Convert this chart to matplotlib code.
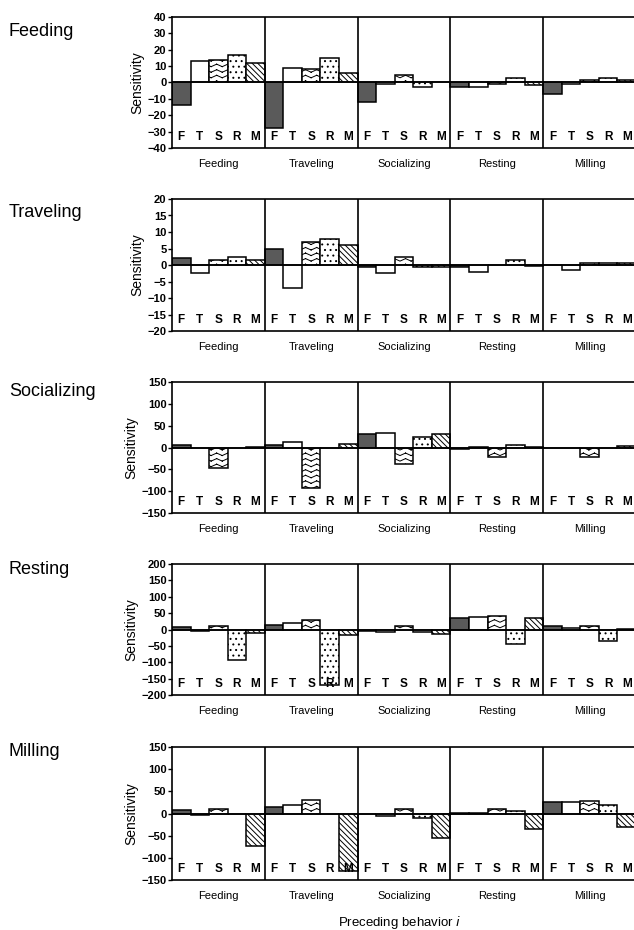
import numpy as np
import matplotlib
matplotlib.use('Agg')
import matplotlib.pyplot as plt
from matplotlib import hatch as mhatch
from matplotlib.path import Path
from matplotlib.transforms import blended_transform_factory


# zigzag fill for the S bars, matplotlib has no wavy hatch
# drawn as separate segments so agg does not fill the triangles
class ZigZagHatch(mhatch.HatchPatternBase):
    def __init__(self, hatch, density):
        self.num_rows = hatch.count('z') * density
        self.teeth = max(self.num_rows // 2, 1)
        self.num_vertices = self.num_rows * 2 * (2 * self.teeth)

    def set_vertices_and_codes(self, vertices, codes):
        n = 2 * self.teeth + 1
        xs = np.linspace(0, 1, n)
        amp = 0.45 / self.num_rows
        ys = np.linspace(0, 1, self.num_rows, endpoint=False)
        c = 0
        for y0 in ys:
            yy = y0 + amp * (np.arange(n) % 2)
            for s in range(n - 1):
                vertices[c] = (xs[s], yy[s])
                vertices[c + 1] = (xs[s + 1], yy[s + 1])
                codes[c] = Path.MOVETO
                codes[c + 1] = Path.LINETO
                c += 2


mhatch._hatch_types.append(ZigZagHatch)

plt.rcParams['font.family'] = ['Liberation Sans', 'DejaVu Sans']
plt.rcParams['hatch.linewidth'] = 0.7

groups = ['Feeding', 'Traveling', 'Socializing', 'Resting', 'Milling']
letters = ['F', 'T', 'S', 'R', 'M']

# rows = response behaviour, inner lists = preceding behaviour, values F T S R M
feeding_vals = [[-14, 13, 14, 17, 12],
                [-28, 9, 8, 15, 6],
                [-12, -1, 4.5, -2.5, 0],
                [-2.5, -3, -1, 3, -1.5],
                [-7, -1, 1.5, 3, 1.5]]
traveling_vals = [[2, -2.5, 1.5, 2.5, 1.5],
                  [5, -7, 7, 8, 6],
                  [-0.6, -2.5, 2.5, -0.7, -0.5],
                  [-0.6, -2.2, 0, 1.5, -0.3],
                  [0, -1.5, 0.6, 0.6, 0.6]]
socializing_vals = [[6, 0, -48, 0, 2],
                    [5, 12, -92, 0, 8],
                    [30, 33, -37, 23, 30],
                    [-3, 2, -22, 6, 2],
                    [0, 0, -22, 0, 3]]
resting_vals = [[8, -4, 10, -92, -12],
                [14, 20, 30, -170, -18],
                [-5, -8, 10, -9, -13],
                [35, 38, 42, -45, 35],
                [10, 5, 12, -36, 3]]
milling_vals = [[8, -3, 10, -2, -73],
                [14, 20, 30, -2, -130],
                [-2, -6, 10, -10, -55],
                [1, 2, 10, 5, -35],
                [25, 25, 28, 20, -30]]

row_names = ['Feeding', 'Traveling', 'Socializing', 'Resting', 'Milling']
row_data = [feeding_vals, traveling_vals, socializing_vals, resting_vals, milling_vals]
row_limits = [40, 20, 150, 200, 150]
row_steps = [10, 5, 50, 50, 50]

fills = ['#5a5a5a', 'white', 'white', 'white', 'white']
hatches = [None, None, 'zzz', '...', '\\\\\\\\\\\\']

W, H = 634, 930
# axes top / bottom in pixels
row_px = [(17, 148), (199, 331), (382, 513), (564, 695), (747, 880)]
title_px = [31, 212, 391, 569, 751]
left_px, right_px = 172, 636


def draw_row(ax, vals, lim, step):
    x = np.arange(25)
    flat = np.array(vals).ravel()
    for j in range(5):
        idx = x[j::5]
        ax.bar(idx, flat[j::5], width=1.0, color=fills[j], hatch=hatches[j],
               edgecolor='black', linewidth=1.1, zorder=2)
    ax.axhline(0, color='black', lw=1.2, zorder=3)
    for b in range(1, 5):
        ax.axvline(b * 5 - 0.5, color='black', lw=1.2, zorder=3)
    ax.set_xlim(-0.5, 24.5)
    ax.set_ylim(-lim, lim)
    ax.set_yticks(np.arange(-lim, lim + step, step))
    ax.tick_params(axis='y', direction='out', length=3, width=1.0, pad=1,
                   labelsize=8)
    for t in ax.get_yticklabels():
        t.set_fontweight('bold')
    ax.set_xticks(np.arange(5) * 5 + 2)
    ax.set_xticklabels(groups, fontsize=8)
    ax.tick_params(axis='x', length=0, pad=8)
    ax.set_ylabel('Sensitivity', fontsize=10, labelpad=2)
    for sp in ax.spines.values():
        sp.set_linewidth(1.2)
    trans = blended_transform_factory(ax.transData, ax.transAxes)
    for i in range(25):
        ax.text(i, 0.085, letters[i % 5], transform=trans, ha='center',
                va='center', fontsize=8.5, fontweight='bold', zorder=4)


fig = plt.figure(figsize=(W / 100, H / 100), dpi=100)
for r in range(5):
    top, bot = row_px[r]
    ax = fig.add_axes([left_px / W, 1 - bot / H, (right_px - left_px) / W, (bot - top) / H])
    draw_row(ax, row_data[r], row_limits[r], row_steps[r])
    fig.text(9 / W, 1 - title_px[r] / H, row_names[r], fontsize=13,
             ha='left', va='center')

fig.text(400 / W, 1 - 922 / H, 'Preceding behavior $\\it{i}$', fontsize=9.5,
         ha='center', va='center')

fig.savefig('out.png', dpi=100)
